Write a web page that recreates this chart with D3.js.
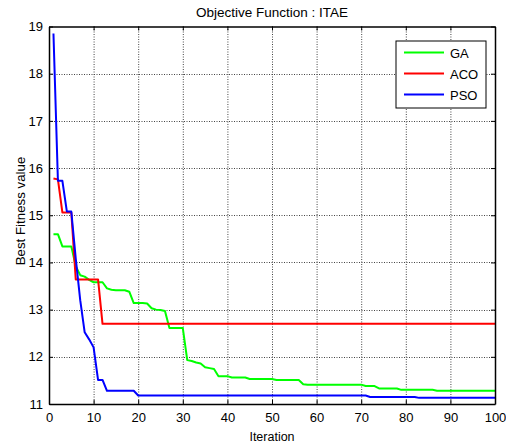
<!DOCTYPE html>
<html><head><meta charset="utf-8">
<script src="https://cdn.jsdelivr.net/npm/d3@7"></script>
<style>
body{margin:0;background:#fff;}
text{font-family:"Liberation Sans",Arial,sans-serif;}
</style></head>
<body><svg id="chart" width="506" height="448"></svg>
<script>
const iterations = d3.range(1, 101);
const gaValues = [
14.60,14.60,14.34,14.34,14.34,13.92,13.73,13.70,13.63,13.58,
13.58,13.58,13.45,13.42,13.41,13.41,13.41,13.38,13.14,13.14,
13.14,13.13,13.03,13.00,12.99,12.97,12.61,12.61,12.61,12.61,
11.93,11.91,11.88,11.86,11.78,11.76,11.74,11.59,11.59,11.59,
11.56,11.56,11.56,11.56,11.53,11.53,11.53,11.53,11.53,11.53,
11.51,11.51,11.51,11.51,11.51,11.51,11.42,11.41,11.41,11.41,
11.41,11.41,11.41,11.41,11.41,11.41,11.41,11.41,11.41,11.41,
11.38,11.38,11.38,11.33,11.33,11.33,11.33,11.33,11.30,11.30,
11.30,11.30,11.30,11.30,11.30,11.30,11.28,11.28,11.28,11.28,
11.28,11.28,11.28,11.28,11.28,11.28,11.28,11.28,11.28,11.28];
const acoValues = [
15.78,15.76,15.06,15.06,15.06,13.64,13.64,13.64,13.64,13.64,
13.64,12.70,12.70,12.70,12.70,12.70,12.70,12.70,12.70,12.70,
12.70,12.70,12.70,12.70,12.70,12.70,12.70,12.70,12.70,12.70,
12.70,12.70,12.70,12.70,12.70,12.70,12.70,12.70,12.70,12.70,
12.70,12.70,12.70,12.70,12.70,12.70,12.70,12.70,12.70,12.70,
12.70,12.70,12.70,12.70,12.70,12.70,12.70,12.70,12.70,12.70,
12.70,12.70,12.70,12.70,12.70,12.70,12.70,12.70,12.70,12.70,
12.70,12.70,12.70,12.70,12.70,12.70,12.70,12.70,12.70,12.70,
12.70,12.70,12.70,12.70,12.70,12.70,12.70,12.70,12.70,12.70,
12.70,12.70,12.70,12.70,12.70,12.70,12.70,12.70,12.70,12.70];
const psoValues = [
18.85,15.73,15.73,15.08,15.08,14.08,13.20,12.52,12.37,12.20,
11.51,11.51,11.28,11.28,11.28,11.28,11.28,11.28,11.28,11.18,
11.18,11.18,11.18,11.18,11.18,11.18,11.18,11.18,11.18,11.18,
11.18,11.18,11.18,11.18,11.18,11.18,11.18,11.18,11.18,11.18,
11.18,11.18,11.18,11.18,11.18,11.18,11.18,11.18,11.18,11.18,
11.18,11.18,11.18,11.18,11.18,11.18,11.18,11.18,11.18,11.18,
11.18,11.18,11.18,11.18,11.18,11.18,11.18,11.18,11.18,11.18,
11.18,11.15,11.15,11.15,11.15,11.15,11.15,11.15,11.15,11.15,
11.15,11.15,11.13,11.13,11.13,11.13,11.13,11.13,11.13,11.13,
11.13,11.13,11.13,11.13,11.13,11.13,11.13,11.13,11.13,11.13];
const seriesNames = ["GA","ACO","PSO"];
const seriesColors = ["#00ff00","#ff0000","#0000ff"];
const xTicks = d3.range(0, 101, 10);
const yTicks = d3.range(11, 20, 1);
const titleText = "Objective Function : ITAE";
const xLabel = "Iteration";
const yLabel = "Best Fitness value";

const svg = d3.select("#chart");
const L = 49, R = 495, T = 26.5, B = 404;
const x = d3.scaleLinear().domain([0,100]).range([L,R]);
const y = d3.scaleLinear().domain([11,19]).range([B,T]);

// grid
const g = svg.append("g");
g.selectAll(".gx").data(xTicks.slice(1,-1)).join("line")
  .attr("x1",d=>x(d)+0.5).attr("x2",d=>x(d)+0.5).attr("y1",T).attr("y2",B)
  .attr("stroke","#444").attr("stroke-width",1).attr("stroke-dasharray","1,1.5");
g.selectAll(".gy").data(yTicks.slice(1,-1)).join("line")
  .attr("y1",d=>Math.round(y(d))+0.5).attr("y2",d=>Math.round(y(d))+0.5).attr("x1",L).attr("x2",R)
  .attr("stroke","#444").attr("stroke-width",1).attr("stroke-dasharray","1,1.5");

// lines
const series = [gaValues, acoValues, psoValues];
const line = d3.line().x((d,i)=>x(iterations[i])).y(d=>y(d));
series.forEach((vals,k)=>{
  svg.append("path").datum(vals).attr("d",line).attr("fill","none")
    .attr("stroke",seriesColors[k]).attr("stroke-width",2).attr("stroke-linejoin","round");
});

// axes
const xAxis = svg.append("g").attr("transform",`translate(0,${B})`)
  .call(d3.axisBottom(x).tickValues(xTicks).tickSizeInner(-4).tickSizeOuter(0).tickPadding(9));
const yAxis = svg.append("g").attr("transform",`translate(${L},0)`)
  .call(d3.axisLeft(y).tickValues(yTicks).tickSizeInner(-4).tickSizeOuter(0).tickPadding(6));
const xTop = svg.append("g").attr("transform",`translate(0,${T})`)
  .call(d3.axisTop(x).tickValues(xTicks).tickSizeInner(-4).tickSizeOuter(0).tickFormat(""));
const yRight = svg.append("g").attr("transform",`translate(${R},0)`)
  .call(d3.axisRight(y).tickValues(yTicks).tickSizeInner(-4).tickSizeOuter(0).tickFormat(""));
[xAxis,yAxis,xTop,yRight].forEach(a=>{
  a.selectAll("path").attr("stroke","#000").attr("stroke-width",1.5);
  a.selectAll("line").attr("stroke","#000");
  a.selectAll("text").attr("font-size",13).attr("fill","#000")
   .style("font-family","'Liberation Sans',Arial,sans-serif");
});

// titles
svg.append("text").attr("x",(L+R)/2).attr("y",16.5).attr("text-anchor","middle")
  .attr("font-size",13.5).text(titleText);
svg.append("text").attr("x",(L+R)/2).attr("y",441).attr("text-anchor","middle")
  .attr("font-size",12.5).text(xLabel);
svg.append("text").attr("transform",`translate(25,211) rotate(-90)`)
  .attr("text-anchor","middle").attr("font-size",13.3).text(yLabel);

// legend
const lg = svg.append("g");
lg.append("rect").attr("x",396).attr("y",41).attr("width",90).attr("height",67)
  .attr("fill","#fff").attr("stroke","#000").attr("stroke-width",1);
seriesNames.forEach((n,k)=>{
  const yy = 52.5 + k*21;
  lg.append("line").attr("x1",404).attr("x2",444).attr("y1",yy).attr("y2",yy)
    .attr("stroke",seriesColors[k]).attr("stroke-width",2);
  lg.append("text").attr("x",450).attr("y",yy+5).attr("font-size",13).text(n);
});
</script></body></html>
